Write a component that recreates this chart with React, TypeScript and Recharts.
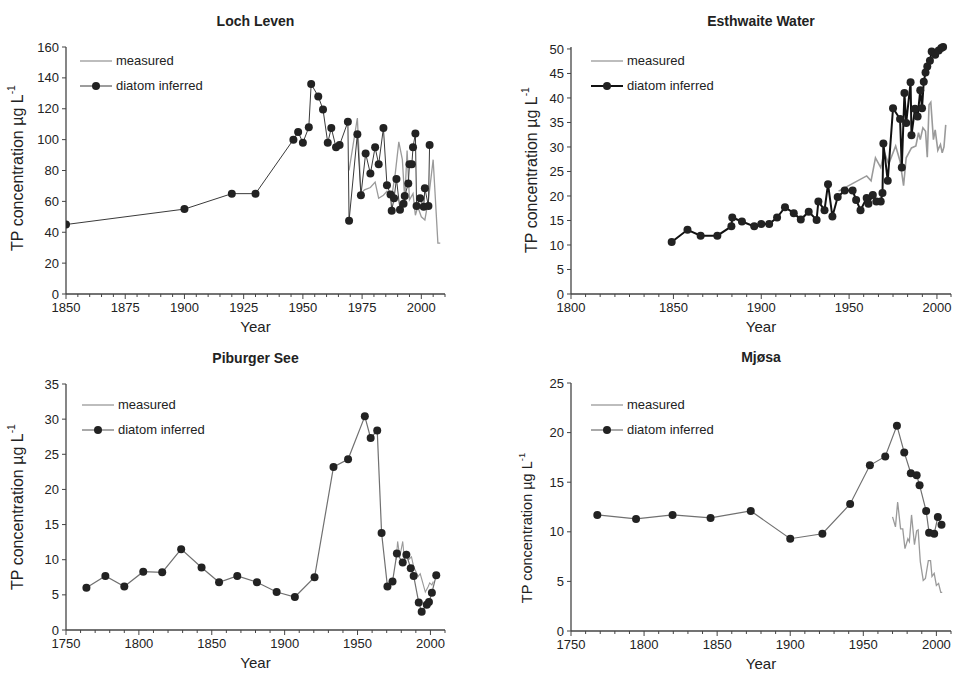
import { LineChart, Line, XAxis, YAxis, Legend } from "recharts";

const FONT = '"Liberation Sans", Arial, Helvetica, sans-serif';
const AXIS = "#444";
const INK = "#222";
const LEGEND_ORDER = ["measured", "diatom inferred"];

// Loch Leven
const llDiatomYears = [1850, 1900, 1920, 1930, 1946, 1948, 1950, 1952.5, 1953.5, 1956.5, 1958.5, 1960.5, 1962, 1964, 1965.5, 1969, 1969.5, 1973, 1974.5, 1976.5, 1978.5, 1980.5, 1982, 1984, 1985.5, 1987, 1987.5, 1988.5, 1989.5, 1991, 1992.5, 1993, 1994.5, 1995, 1996, 1996.5, 1997.5, 1998, 1999.5, 2001, 2001.5, 2003, 2003.5];
const llDiatomTP = [45, 55, 65, 65, 100, 105, 98, 108, 136, 128, 119.5, 98, 107.5, 95, 96.5, 111.5, 47.5, 103.5, 64, 91, 78, 95, 84, 107.5, 70.5, 64.5, 54, 62, 74.5, 54.5, 58.5, 63.5, 71.5, 84, 84, 95, 104, 57, 62, 56.5, 68.5, 57, 96.5];
const llMeasuredYears = [1969.5, 1973, 1974.5, 1976, 1978.5, 1980.5, 1982, 1984, 1985.5, 1987.5, 1989, 1990.5, 1992, 1993, 1994, 1995, 1996.5, 1997.5, 1998.5, 2000, 2001.5, 2003, 2005, 2007, 2008];
const llMeasuredTP = [80, 114, 65, 67.5, 69, 72.5, 62, 64, 66.5, 63, 78, 98.5, 87, 61, 93, 61, 65, 51, 56.5, 50, 48, 61, 87, 33, 33];

// Esthwaite Water
const ewDiatomYears = [1849, 1858, 1865.5, 1875, 1883, 1883.5, 1889, 1896, 1900, 1904.5, 1909, 1913.5, 1918.5, 1922.5, 1927, 1931.5, 1932.5, 1936, 1938, 1940.5, 1943.5, 1947.5, 1952, 1954, 1956.5, 1960, 1961, 1963.5, 1965.5, 1968, 1969, 1969.5, 1972, 1975, 1979, 1980, 1981.5, 1982.5, 1985, 1985.5, 1987.5, 1989, 1990.5, 1991.5, 1992.5, 1993.5, 1994.5, 1996, 1997, 1999, 2001, 2002.5, 2003.5];
const ewDiatomTP = [10.6, 13.1, 11.9, 11.9, 13.8, 15.6, 14.8, 13.8, 14.3, 14.3, 15.6, 17.7, 16.5, 15.2, 16.8, 15.1, 18.9, 17.1, 22.4, 15.8, 19.8, 21.1, 21.1, 19.2, 17.1, 19.6, 18.4, 20.2, 18.9, 18.9, 20.6, 30.7, 23.1, 37.9, 35.7, 25.8, 41, 34.9, 43.2, 32.4, 37.8, 36.2, 41.6, 37.9, 43.3, 45.2, 46.4, 47.6, 49.5, 48.8, 49.7, 50.2, 50.4];
const ewMeasuredYears = [1944, 1960, 1962.5, 1965, 1968, 1970, 1972.5, 1976.5, 1979, 1981, 1982.5, 1985.5, 1988, 1989.5, 1990.5, 1992, 1993.5, 1994.5, 1995.5, 1996.5, 1998, 1999, 2000.5, 2002, 2003, 2004, 2005];
const ewMeasuredTP = [21, 24.1, 23.1, 27.8, 25.8, 29, 26.5, 30.2, 27.1, 22.1, 27.8, 29.8, 30.2, 32.9, 31.5, 33.9, 33.2, 27.9, 38.6, 39.1, 31.5, 33.5, 29.3, 30.5, 28.8, 30, 34.5];

// Piburger See
const psDiatomYears = [1764, 1777, 1790, 1803, 1816, 1829, 1843, 1855, 1867.5, 1881, 1894.5, 1907, 1920.5, 1933.5, 1943.5, 1955, 1959, 1963.5, 1966.5, 1970.5, 1974, 1977, 1981, 1983.5, 1986.5, 1988.5, 1992, 1994, 1997.5, 1999, 2001, 2004];
const psDiatomTP = [6.0, 7.7, 6.2, 8.3, 8.2, 11.5, 8.9, 6.8, 7.7, 6.8, 5.4, 4.7, 7.5, 23.2, 24.3, 30.4, 27.3, 28.4, 13.8, 6.2, 6.9, 10.9, 9.6, 10.7, 8.8, 7.7, 3.9, 2.6, 3.6, 4.0, 5.3, 7.8];
const psMeasuredYears = [1976.5, 1977.5, 1979, 1981, 1982, 1983.5, 1985, 1987, 1988.5, 1990.5, 1991.5, 1993, 1994.5, 1996.5, 1998.5, 1999.5, 2001, 2002];
const psMeasuredTP = [10, 12.6, 10.4, 12.6, 10.4, 11.1, 10, 10.4, 9, 8.1, 7.6, 8, 6.9, 5.4, 6.2, 6.7, 6.4, 6.9];

// Mjøsa
const mjDiatomYears = [1768, 1794.5, 1819.5, 1845.5, 1873, 1900, 1922, 1941, 1954.5, 1965, 1973, 1978, 1982.5, 1986.5, 1988.5, 1993, 1995, 1998.5, 2001, 2003.5];
const mjDiatomTP = [11.7, 11.3, 11.7, 11.4, 12.1, 9.3, 9.8, 12.8, 16.7, 17.6, 20.7, 18.0, 15.9, 15.7, 14.7, 12.1, 9.9, 9.8, 11.5, 10.7];
const mjMeasuredYears = [1970, 1972, 1973.5, 1975.5, 1977, 1978.5, 1980.5, 1981.5, 1983, 1985, 1986.5, 1987.5, 1989, 1991, 1992.5, 1993.5, 1994.5, 1996, 1997, 1998.5, 2000, 2001.5, 2003, 2004];
const mjMeasuredTP = [11.5, 10.5, 13, 10.3, 10.3, 8.3, 9.3, 9.0, 11.7, 8.7, 10.1, 10.2, 7.0, 5.1, 5.3, 6.2, 7.1, 7.1, 5.5, 5.8, 4.6, 4.8, 3.9, 3.9];

// axis ticks
const llYTicks = [0, 20, 40, 60, 80, 100, 120, 140, 160];
const ewYTicks = [0, 5, 10, 15, 20, 25, 30, 35, 40, 45, 50];
const psYTicks = [0, 5, 10, 15, 20, 25, 30, 35];
const mjYTicks = [0, 5, 10, 15, 20, 25];

const llXMinor = [1850, 1855, 1860, 1865, 1870, 1875, 1880, 1885, 1890, 1895, 1900, 1905, 1910, 1915, 1920, 1925, 1930, 1935, 1940, 1945, 1950, 1955, 1960, 1965, 1970, 1975, 1980, 1985, 1990, 1995, 2000, 2005, 2010];
const llXMajor = [1850, 1875, 1900, 1925, 1950, 1975, 2000];
const llXLabels = ["1850", "1875", "1900", "1925", "1950", "1975", "2000"];

const ewXMinor = [1791.7, 1800, 1808.3, 1816.7, 1825, 1833.3, 1841.7, 1850, 1858.3, 1866.7, 1875, 1883.3, 1891.7, 1900, 1908.3, 1916.7, 1925, 1933.3, 1941.7, 1950, 1958.3, 1966.7, 1975, 1983.3, 1991.7, 2000, 2008];
const ewXMajor = [1791.7, 1850, 1900, 1950, 2000];
const ewXLabels = ["1800", "1850", "1900", "1950", "2000"];

const c10 = [1750, 1760, 1770, 1780, 1790, 1800, 1810, 1820, 1830, 1840, 1850, 1860, 1870, 1880, 1890, 1900, 1910, 1920, 1930, 1940, 1950, 1960, 1970, 1980, 1990, 2000, 2010];
const c50Major = [1750, 1800, 1850, 1900, 1950, 2000];
const c50Labels = ["1750", "1800", "1850", "1900", "1950", "2000"];

const zip = (xs: number[], ys: number[]) => xs.map((year, i) => ({ year, tp: ys[i] }));

function XTick(props: any) {
  const { x, y, payload, majors, labels } = props;
  const i = majors.indexOf(payload.value);
  const major = i >= 0;
  return (
    <g>
      <line x1={x} x2={x} y1={y} y2={y + (major ? 5 : 3)} stroke={AXIS} strokeWidth={1} />
      {major && (
        <text x={x} y={y + 8} dy="0.75em" textAnchor="middle" fontSize={13} fontFamily={FONT} fill={INK}>
          {labels[i]}
        </text>
      )}
    </g>
  );
}

function LegendBox({ payload, lineW }: any) {
  const items = [...(payload || [])].sort(
    (a: any, b: any) => LEGEND_ORDER.indexOf(a.value) - LEGEND_ORDER.indexOf(b.value)
  );
  return (
    <div style={{ fontFamily: FONT, fontSize: 13, color: INK }}>
      {items.map((e: any) => (
        <div key={e.value} style={{ display: "flex", alignItems: "center", height: 25 }}>
          <svg width={36} height={12} style={{ display: "block" }}>
            <line x1={0} x2={32} y1={6} y2={6} stroke={e.color} strokeWidth={e.value === "measured" ? 1.3 : lineW} />
            {e.value === "diatom inferred" && <circle cx={16} cy={6} r={4} fill={INK} />}
          </svg>
          <span>{e.value}</span>
        </div>
      ))}
    </div>
  );
}

type PanelProps = {
  title: string;
  left: number; top: number; width: number; height: number;
  marginTop: number; marginRight: number; yW: number; xH: number;
  xDomain: [number, number]; xMinor: number[]; xMajor: number[]; xLabels: string[];
  yMax: number; yTicks: number[];
  diatom: { year: number; tp: number }[];
  measured: { year: number; tp: number }[];
  diatomStroke: string; diatomW: number; measuredW: number;
  yLabX: number; yLabY: number; yLabSize: number;
  legLeft: number; legTop: number;
};

function Panel(p: PanelProps) {
  const plotW = p.width - p.yW - p.marginRight;
  const plotH = p.height - p.marginTop - p.xH;
  const cx = p.yW + plotW / 2;
  return (
    <div style={{ position: "absolute", left: p.left, top: p.top, width: p.width, height: p.height }}>
      <div
        style={{
          position: "absolute", left: p.yW, width: plotW, top: p.marginTop - 35, height: 18,
          lineHeight: "18px", textAlign: "center", fontFamily: FONT, fontWeight: "bold", fontSize: 14, color: INK,
        }}
      >
        {p.title}
      </div>
      <LineChart width={p.width} height={p.height} margin={{ top: p.marginTop, right: p.marginRight, bottom: 0, left: 0 }}>
        <XAxis
          type="number" dataKey="year" domain={p.xDomain} ticks={p.xMinor} interval={0} allowDataOverflow
          height={p.xH} tickSize={0} tickMargin={0} tickLine={false}
          axisLine={{ stroke: AXIS, strokeWidth: 1.3 }}
          tick={(t: any) => <XTick {...t} majors={p.xMajor} labels={p.xLabels} />}
          label={() => (
            <text x={cx} y={p.marginTop + plotH + 38} textAnchor="middle" fontSize={15} fontFamily={FONT} fill={INK}>
              Year
            </text>
          )}
        />
        <YAxis
          type="number" domain={[0, p.yMax]} ticks={p.yTicks} interval={0} width={p.yW}
          tickSize={4} tickMargin={3}
          tick={{ fontSize: 13, fontFamily: FONT, fill: INK }}
          tickLine={{ stroke: AXIS }} axisLine={{ stroke: AXIS, strokeWidth: 1.3 }}
          label={() => (
            <text
              x={p.yLabX} y={p.yLabY} textAnchor="middle" dominantBaseline="central"
              transform={`rotate(-90, ${p.yLabX}, ${p.yLabY})`} fontSize={p.yLabSize} fontFamily={FONT} fill={INK}
            >
              TP concentration µg L<tspan dy={-6} fontSize={p.yLabSize * 0.65}>-1</tspan>
            </text>
          )}
        />
        <Legend
          layout="vertical" align="center" verticalAlign="middle"
          wrapperStyle={{ left: p.legLeft, top: p.legTop, width: "auto" }}
          content={(lp: any) => <LegendBox payload={lp.payload} lineW={p.diatomW} />}
        />
        <Line
          data={p.measured} dataKey="tp" name="measured" type="linear" stroke="#9a9a9a"
          strokeWidth={p.measuredW} dot={false} activeDot={false} isAnimationActive={false}
        />
        <Line
          data={p.diatom} dataKey="tp" name="diatom inferred" type="linear" stroke={p.diatomStroke}
          strokeWidth={p.diatomW} dot={{ r: 4, fill: INK, stroke: INK, strokeWidth: 0 }} activeDot={false}
          isAnimationActive={false}
        />
      </LineChart>
    </div>
  );
}

export default function App() {
  return (
    <div style={{ position: "absolute", left: 0, top: 0, width: 957, height: 677, background: "#fff", overflow: "hidden" }}>
      <Panel
        title="Loch Leven" left={0} top={0} width={478} height={338} marginTop={47} marginRight={33} yW={66} xH={44}
        xDomain={[1850, 2010]} xMinor={llXMinor} xMajor={llXMajor} xLabels={llXLabels}
        yMax={160} yTicks={llYTicks}
        diatom={zip(llDiatomYears, llDiatomTP)} measured={zip(llMeasuredYears, llMeasuredTP)}
        diatomStroke="#3a3a3a" diatomW={1} measuredW={1.3}
        yLabX={17} yLabY={168} yLabSize={16} legLeft={80} legTop={48}
      />
      <Panel
        title="Esthwaite Water" left={478} top={0} width={479} height={338} marginTop={47} marginRight={6} yW={93} xH={44}
        xDomain={[1791.7, 2008]} xMinor={ewXMinor} xMajor={ewXMajor} xLabels={ewXLabels}
        yMax={50} yTicks={ewYTicks}
        diatom={zip(ewDiatomYears, ewDiatomTP)} measured={zip(ewMeasuredYears, ewMeasuredTP)}
        diatomStroke="#111" diatomW={2} measuredW={1.6}
        yLabX={53} yLabY={170} yLabSize={16} legLeft={113} legTop={48}
      />
      <Panel
        title="Piburger See" left={0} top={338} width={478} height={339} marginTop={46} marginRight={33} yW={66} xH={47}
        xDomain={[1750, 2010]} xMinor={c10} xMajor={c50Major} xLabels={c50Labels}
        yMax={35} yTicks={psYTicks}
        diatom={zip(psDiatomYears, psDiatomTP)} measured={zip(psMeasuredYears, psMeasuredTP)}
        diatomStroke="#707070" diatomW={1.2} measuredW={1.1}
        yLabX={17} yLabY={169} yLabSize={16} legLeft={82} legTop={54}
      />
      <Panel
        title="Mjøsa" left={478} top={338} width={479} height={339} marginTop={45} marginRight={6} yW={93} xH={46}
        xDomain={[1750, 2010]} xMinor={c10} xMajor={c50Major} xLabels={c50Labels}
        yMax={25} yTicks={mjYTicks}
        diatom={zip(mjDiatomYears, mjDiatomTP)} measured={zip(mjMeasuredYears, mjMeasuredTP)}
        diatomStroke="#707070" diatomW={1.2} measuredW={1.3}
        yLabX={49} yLabY={190} yLabSize={14.5} legLeft={113} legTop={54}
      />
    </div>
  );
}
